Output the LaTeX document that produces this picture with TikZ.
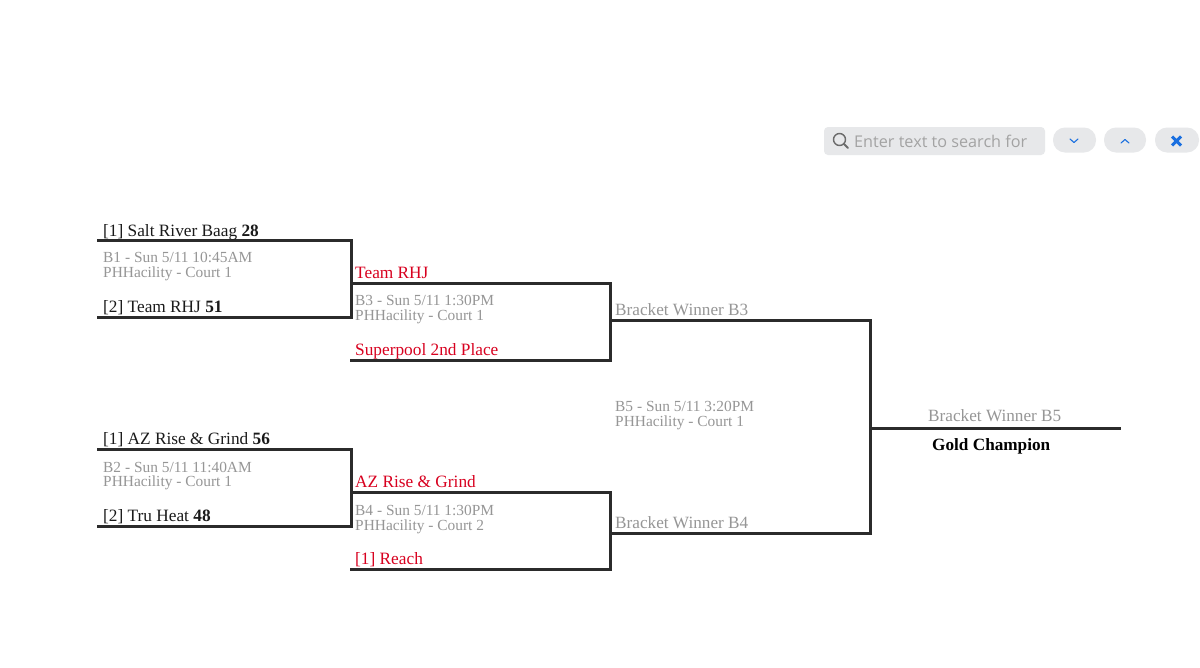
\documentclass[tikz,border=0pt]{standalone}
\usepackage{fontspec}
\setmainfont{Liberation Serif}
\newfontfamily\uifont{Open Sans}
\definecolor{linec}{HTML}{2B2B2B}
\definecolor{greyt}{HTML}{969696}
\definecolor{redt}{HTML}{D8001F}
\definecolor{blackt}{HTML}{1A1A1A}
\definecolor{btn}{HTML}{E7E8EA}
\definecolor{blueb}{HTML}{1A6FE0}
\tikzset{
  x=1pt,y=-1pt,
  bline/.style={draw=linec,line width=3pt,line join=miter},
  team/.style={anchor=base west,inner sep=0pt,text=blackt,font=\fontsize{17.3}{18}\selectfont},
  redteam/.style={team,text=redt},
  info/.style={anchor=base west,inner sep=0pt,text=greyt,font=\fontsize{15.4}{16}\selectfont},
  winner/.style={anchor=base west,inner sep=0pt,text=greyt,font=\fontsize{17.2}{18}\selectfont},
  pill/.style={fill=btn,draw=none,rounded corners=12pt},
}
\begin{document}
\begin{tikzpicture}
\useasboundingbox (0,0) rectangle (1200,667);
\fill[white] (0,0) rectangle (1200,667);
% search bar
\fill[btn,rounded corners=4pt] (824,127) rectangle (1045,155);
\draw[black!58,line width=1.4pt] (839.5,139.5) circle (6);
\draw[black!58,line width=1.8pt,line cap=round] (844,144) -- (848,148);
\node[anchor=base west,inner sep=0pt,text=black!36,font=\uifont\fontsize{16.2}{18}\selectfont] (search) at (854,147) {Enter text to search for};
\fill[pill] (1053,127.5) rectangle (1096,152.5);
\fill[pill] (1104,127.5) rectangle (1146,152.5);
\fill[pill] (1155,127.5) rectangle (1199,152.5);
\draw[blueb,line width=1.1pt,line cap=round,line join=round] (1070,139) -- (1074,142.5) -- (1078,139);
\draw[blueb,line width=1.1pt,line cap=round,line join=round] (1121,143) -- (1125,139.5) -- (1129,143);
\draw[blueb,line width=3pt] (1172,136.5) -- (1181,145.5) (1181,136.5) -- (1172,145.5);
% coordinates
\coordinate (a1) at (97,240); \coordinate (a2) at (351,240); \coordinate (a3) at (351,317); \coordinate (a4) at (97,317);
\coordinate (b1) at (97,449); \coordinate (b2) at (351,449); \coordinate (b3) at (351,526); \coordinate (b4) at (97,526);
\coordinate (c1) at (350,283); \coordinate (c2) at (610.5,283); \coordinate (c3) at (610.5,360); \coordinate (c4) at (350,360);
\coordinate (d1) at (350,492); \coordinate (d2) at (610.5,492); \coordinate (d3) at (610.5,569); \coordinate (d4) at (350,569);
\coordinate (e1) at (610.5,320); \coordinate (e2) at (870,320); \coordinate (e3) at (870,533); \coordinate (e4) at (610.5,533);
\coordinate (f1) at (870,428); \coordinate (f2) at (1121,428);
% lines
\draw[bline] (a1) -- (a2) -- (a3) -- (a4);
\draw[bline] (b1) -- (b2) -- (b3) -- (b4);
\draw[bline] (c1) -- (c2) -- (c3) -- (c4);
\draw[bline] (d1) -- (d2) -- (d3) -- (d4);
\draw[bline] (e1) -- (e2) -- (e3) -- (e4);
\draw[bline] (f1) -- (f2);
% text
\node[team] (t1) at (103,236) {[1] Salt River Baag \textbf{28}};
\node[info] (i1a) at (103,262) {B1 - Sun 5/11 10:45AM};
\node[info] (i1b) at (103,277) {PHHacility - Court 1};
\node[team] (t2) at (103,312) {[2] Team RHJ \textbf{51}};
\node[team] (t3) at (103,444) {[1] AZ Rise \& Grind \textbf{56}};
\node[info] (i2a) at (103,472) {B2 - Sun 5/11 11:40AM};
\node[info] (i2b) at (103,486) {PHHacility - Court 1};
\node[team] (t4) at (103,521) {[2] Tru Heat \textbf{48}};
\node[redteam] (r1) at (355,278) {Team RHJ};
\node[info] (i3a) at (355,305) {B3 - Sun 5/11 1:30PM};
\node[info] (i3b) at (355,320) {PHHacility - Court 1};
\node[redteam] (r2) at (355,355) {Superpool 2nd Place};
\node[redteam] (r3) at (355,487) {AZ Rise \& Grind};
\node[info] (i4a) at (355,515) {B4 - Sun 5/11 1:30PM};
\node[info] (i4b) at (355,530) {PHHacility - Court 2};
\node[redteam] (r4) at (355,564) {[1] Reach};
\node[winner] (w3) at (615,315) {Bracket Winner B3};
\node[winner] (w4) at (615,528) {Bracket Winner B4};
\node[info] (i5a) at (615,411) {B5 - Sun 5/11 3:20PM};
\node[info] (i5b) at (615,426) {PHHacility - Court 1};
\node[winner] (w5) at (928,421) {Bracket Winner B5};
\node[anchor=base west,inner sep=0pt,text=black,font=\bfseries\fontsize{17.2}{18}\selectfont] (gold) at (932,450) {Gold Champion};
\end{tikzpicture}
\end{document}
